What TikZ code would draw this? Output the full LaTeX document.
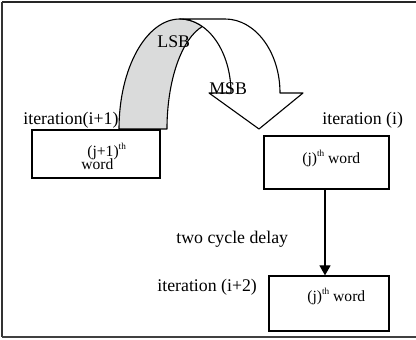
\documentclass[tikz,border=0pt]{standalone}
\usepackage{fontspec}
\setmainfont{Liberation Serif}
\usetikzlibrary{arrows.meta}
\definecolor{bandgray}{RGB}{218,219,219}
\newcommand\ordsup{\raisebox{0.5em}{\fontsize{4.6}{5}\selectfont th}}
\begin{document}
\begin{tikzpicture}[x=0.5pt,y=0.5pt,
  wordbox/.style={draw, line width=0.6pt, inner sep=0pt},
  lbl/.style={font=\fontsize{8.9}{10}\selectfont, inner sep=0pt, anchor=base west},
  boxtxt/.style={font=\fontsize{7.8}{9}\selectfont, inner sep=0pt, anchor=base west},
  outline/.style={draw, line width=0.55pt, line join=round}]
\useasboundingbox (0,0) rectangle (416,340);
% frame
\draw[line width=0.7pt, black!85] (2,338) -- (416,338);
\draw[line width=0.8pt, black!80] (2,338) -- (2,3);
\draw[line width=1.2pt, black!75] (2,3) -- (416,3);
% boxes
\node[wordbox, minimum width=64pt, minimum height=24pt] (b1) at (96,186) {};
\node[wordbox, minimum width=62.5pt, minimum height=26.5pt] (b2) at (326.5,177.5) {};
\node[wordbox, minimum width=60pt, minimum height=27.5pt] (b3) at (329,36.5) {};
% curved arrow: grey band
\filldraw[fill=bandgray, outline] (119,211)
  arc[start angle=180, end angle=90, x radius=30.5pt, y radius=55pt]
  arc[start angle=90, end angle=64, x radius=25.5pt, y radius=37pt]
  arc[start angle=104.8, end angle=180, x radius=23.75pt, y radius=53pt]
  -- cycle;
% curved arrow: white part with head
\draw[outline, fill=white] (180,321) -- (225,321)
  arc[start angle=90, end angle=0, x radius=27.5pt, y radius=37pt]
  -- (303,247) -- (259,211) -- (209,247) -- (231,247)
  arc[start angle=0, end angle=90, x radius=25.5pt, y radius=37pt]
  -- cycle;
% texts
\node[lbl] (lsb) at (157,292) {LSB};
\node[lbl] (msb) at (209,245) {MSB};
\node[lbl] (it1) at (23,215) {iteration(i+1)};
\node[lbl] (it0) at (322,215) {iteration (i)};
\node[lbl] (it2) at (157,48.5) {iteration (i+2)};
\node[lbl] (dly) at (176,96) {two cycle delay};
\node[boxtxt] (w1a) at (87,183) {(j+1)\ordsup};
\node[boxtxt] (w1b) at (81,170) {word};
\node[boxtxt] (w2) at (302,176) {(j)\ordsup\ word};
\node[boxtxt] (w3) at (307,38) {(j)\ordsup\ word};
% delay arrow
\coordinate (ax) at (325,0);
\draw[line width=0.6pt, -{Triangle[width=5.5pt,length=5pt]}] (b2.south -| ax) -- (b3.north -| ax);
\end{tikzpicture}
\end{document}
